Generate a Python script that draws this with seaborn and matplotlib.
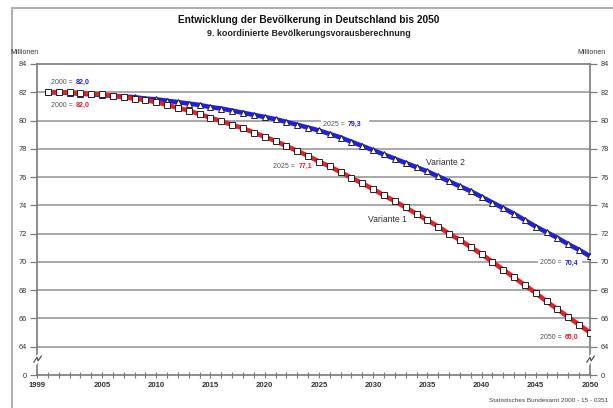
import numpy as np
import pandas as pd
import matplotlib
matplotlib.use("Agg")
import matplotlib.pyplot as plt
import matplotlib.transforms as mtransforms
from matplotlib.lines import Line2D
import seaborn as sns

# ---------------- data ----------------
years = list(range(2000, 2051))
variante1 = [82.0, 82.0, 82.0, 81.95, 81.9, 81.85, 81.75, 81.65, 81.55, 81.45,
             81.3, 81.1, 80.9, 80.7, 80.45, 80.2, 79.95, 79.7, 79.45, 79.15,
             78.85, 78.55, 78.2, 77.85, 77.5, 77.1, 76.75, 76.35, 75.95, 75.55,
             75.15, 74.7, 74.3, 73.85, 73.4, 72.95, 72.5, 72.0, 71.55, 71.05,
             70.55, 70.0, 69.45, 68.9, 68.35, 67.8, 67.2, 66.65, 66.1, 65.55,
             65.0]
variante2 = [82.0, 82.0, 81.95, 81.9, 81.85, 81.8, 81.75, 81.7, 81.65, 81.55,
             81.5, 81.4, 81.3, 81.2, 81.1, 80.95, 80.85, 80.7, 80.55, 80.4,
             80.25, 80.1, 79.9, 79.7, 79.5, 79.3, 79.05, 78.8, 78.5, 78.2,
             77.9, 77.6, 77.3, 77.0, 76.7, 76.4, 76.05, 75.7, 75.35, 75.0,
             74.6, 74.2, 73.8, 73.4, 72.95, 72.5, 72.1, 71.7, 71.25, 70.85,
             70.4]
xtick_years = [1999, 2005, 2010, 2015, 2020, 2025, 2030, 2035, 2040, 2045, 2050]
ytick_vals = [62, 64, 66, 68, 70, 72, 74, 76, 78, 80, 82, 84]
ytick_labels = ["0", "64", "66", "68", "70", "72", "74", "76", "78", "80", "82", "84"]
grid_vals = [64, 66, 68, 70, 72, 74, 76, 78, 80, 82]

title = "Entwicklung der Bevölkerung in Deutschland bis 2050"
subtitle = "9. koordinierte Bevölkerungsvorausberechnung"
source = "Statistisches Bundesamt 2000 - 15 - 0351"

RED = "#ee1d23"
BLUE = "#1f1fe6"
GRID = "#999999"
FRAME = "#7a7a7a"
TXT = "#333333"

df1 = pd.DataFrame({"Jahr": years, "Mio": variante1})
df2 = pd.DataFrame({"Jahr": years, "Mio": variante2})

sns.set_theme(style="white")
plt.rcParams["font.family"] = ["Liberation Sans", "DejaVu Sans"]

fig = plt.figure(figsize=(6.13, 4.08), dpi=100)
ax = fig.add_axes([37 / 613, 1 - 375 / 408, (590 - 37) / 613, (375 - 64) / 408])

# grid lines
for g in grid_vals:
    ax.axhline(g, color=GRID, lw=1.2, zorder=1)

sns.lineplot(data=df2, x="Jahr", y="Mio", ax=ax, color=BLUE, lw=3.3,
             marker="^", markersize=5, markerfacecolor="white",
             markeredgecolor="#222222", markeredgewidth=0.7, zorder=3)
sns.lineplot(data=df1, x="Jahr", y="Mio", ax=ax, color=RED, lw=3.3,
             marker="s", markersize=4.5, markerfacecolor="white",
             markeredgecolor="#222222", markeredgewidth=0.7, zorder=3)

ax.set_xlim(1999, 2050)
ax.set_ylim(62, 84)
ax.set_xlabel("")
ax.set_ylabel("")

for s in ax.spines.values():
    s.set_color(FRAME)
    s.set_linewidth(1.2)
    s.set_visible(True)

# x ticks
ax.set_xticks(xtick_years)
ax.set_xticklabels([str(y) for y in xtick_years], fontsize=5.6, fontweight="bold", color=TXT)
ax.set_xticks(list(range(1999, 2051)), minor=True)
ax.tick_params(axis="x", which="both", direction="inout", length=4.5, width=0.8,
               color=FRAME, bottom=True, pad=3)

# y ticks left and right
ax.set_yticks(ytick_vals)
ax.set_yticklabels(ytick_labels, fontsize=5.3, color=TXT)
ax.tick_params(axis="y", which="major", left=True, right=True, labelleft=True,
               labelright=True, length=5, width=0.9, color=FRAME, pad=2.5)
ax.grid(False)

# break marks on both y axes
for xa in (0.0, 1.0):
    tr = mtransforms.blended_transform_factory(ax.transAxes, ax.transData)
    ax.plot([xa - 0.004, xa + 0.004], [62.85, 63.35], color="white", lw=3.5,
            transform=tr, clip_on=False, zorder=5)
    ax.plot([xa - 0.006, xa, xa + 0.002, xa + 0.008], [62.9, 63.25, 63.0, 63.35],
            color="#444444", lw=0.8, transform=tr, clip_on=False, zorder=6)

# value annotations
def two_part(xs, y, left, right, col):
    kw = dict(fontsize=5, va="center", zorder=4)
    ax.text(xs, y, left, ha="right", color="#555555", **kw)
    ax.text(xs + 0.1, y, right, ha="left", color=col, fontweight="bold", **kw)

two_part(2002.5, 82.68, "2000 = ", "82,0", BLUE)
two_part(2002.5, 81.05, "2000 = ", "82,0", RED)
two_part(2023.0, 76.75, "2025 = ", "77,1", RED)
two_part(2047.6, 64.64, "2050 = ", "65,0", RED)

# labels sitting on grid lines with white background
ax.add_patch(plt.Rectangle((2025.2, 79.65), 4.3, 0.7, color="white", zorder=2))
two_part(2027.6, 79.75, "2025 = ", "79,3", BLUE)
ax.add_patch(plt.Rectangle((2045.2, 69.6), 4.0, 0.7, color="white", zorder=2))
two_part(2047.6, 69.93, "2050 = ", "70,4", BLUE)

ax.text(2036.7, 77.0, "Variante 2", fontsize=6.2, color=TXT, ha="center", va="center")
ax.text(2031.35, 73.0, "Variante 1", fontsize=6.2, color=TXT, ha="center", va="center")

# titles and captions
fig.text(0.504, 1 - 20 / 408, title, ha="center", va="center", fontsize=7.3,
         fontweight="bold", color="#111111")
fig.text(0.504, 1 - 33 / 408, subtitle, ha="center", va="center", fontsize=6.4,
         fontweight="bold", color="#222222")
fig.text(10 / 613, 1 - 52 / 408, "Millionen", ha="left", va="center", fontsize=5,
         color=TXT)
fig.text(606 / 613, 1 - 52 / 408, "Millionen", ha="right", va="center", fontsize=5,
         color=TXT)
fig.text(608 / 613, 1 - 401 / 408, source, ha="right", va="center", fontsize=4.6,
         color="#444444")

# outer border (light gray)
fig.add_artist(Line2D([12 / 613, 12 / 613], [0, 1 - 8 / 408], color="#b0b0b0", lw=1.5,
                      transform=fig.transFigure))
fig.add_artist(Line2D([12 / 613, 1], [1 - 8 / 408, 1 - 8 / 408], color="#b0b0b0", lw=1.5,
                      transform=fig.transFigure))

fig.savefig("out.png", dpi=100, facecolor="white")
